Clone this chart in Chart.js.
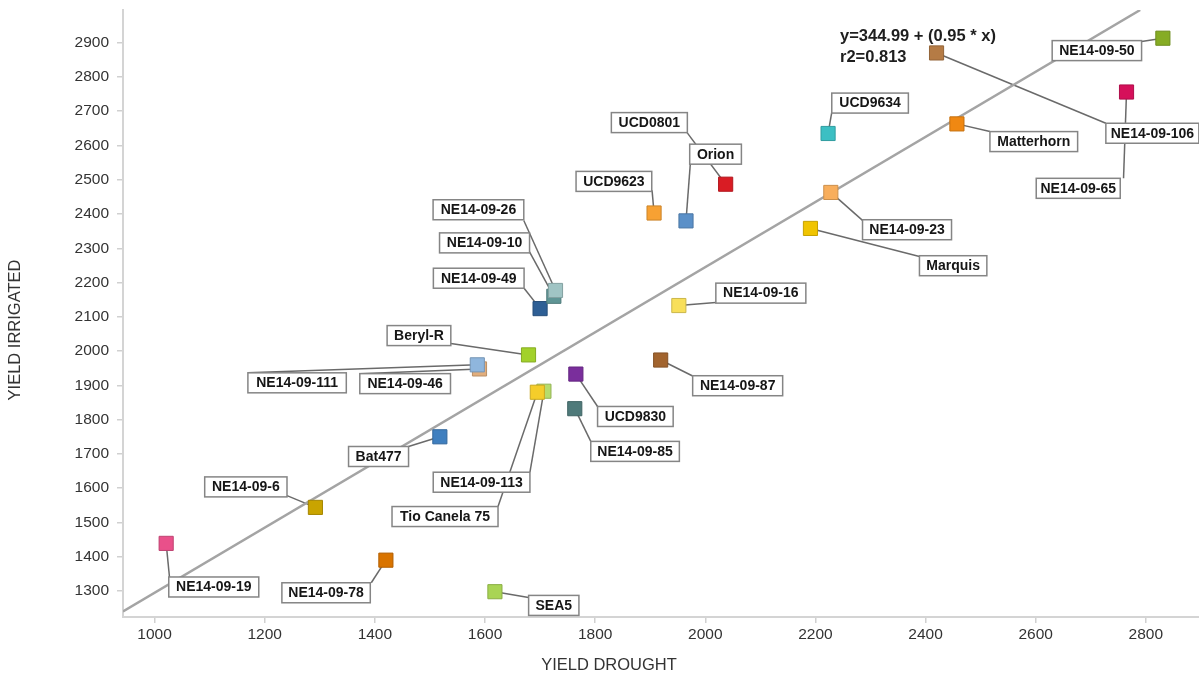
<!DOCTYPE html>
<html>
<head>
<meta charset="utf-8">
<script src="https://cdn.jsdelivr.net/npm/chart.js@4/dist/chart.umd.min.js"></script>
<style>
  html, body { margin: 0; padding: 0; background: #ffffff; }
  canvas { display: block; }
</style>
</head>
<body>
<canvas id="c" width="1199" height="675"></canvas>
<script>
// Bean lines: yield under drought vs. irrigated conditions
const lines = ["NE14-09-19","NE14-09-6","NE14-09-78","SEA5","Bat477","Beryl-R","NE14-09-46","NE14-09-111",
  "NE14-09-113","Tio Canela 75","UCD9830","NE14-09-85","NE14-09-87","NE14-09-16","NE14-09-49","NE14-09-10",
  "NE14-09-26","UCD9623","UCD0801","Orion","UCD9634","NE14-09-23","Marquis","Matterhorn","NE14-09-106",
  "NE14-09-65","NE14-09-50"];
const yieldDrought = [1021,1292,1420,1618,1518,1679,1590,1586,1707,1695,1765,1763,1919,1952,1700,1725,
  1728,1907,2037,1965,2223,2228,2191,2457,2420,2765,2831];
const yieldIrrigated = [1439,1544,1390,1298,1750,1989,1948,1960,1883,1880,1933,1832,1974,2133,2124,2160,
  2177,2403,2487,2380,2635,2463,2358,2663,2870,2756,2913];
const xTicks = [1000,1200,1400,1600,1800,2000,2200,2400,2600,2800];
const yTicks = [1300,1400,1500,1600,1700,1800,1900,2000,2100,2200,2300,2400,2500,2600,2700,2800,2900];
const xRange = [942.6, 2896.6];
const yRange = [1224.2, 2995.3];

// Linear fit reported on the chart
const fitIntercept = 344.99;
const fitSlope = 0.95;
const fitR2 = 0.813;

// Marker fill colours, one per line
const markerColors = ["#e9508a","#c9a400","#d97400","#a9d454","#3f7fbf","#a2d12a","#e2ae7c","#8fb6dd",
  "#b6dc6c","#f5cd2a","#7a2e9c","#4f7a7a","#a2642e","#f8df5a","#2e5f95","#5f9595",
  "#a0c4c4","#f7a133","#d91c24","#5b90c8","#3cbfc3","#f8ae5c","#f0c400","#f08812","#b57b45",
  "#d5105a","#86ac24"];

// Callout placement in pixels relative to the marker:
// [box left, box top, box width, leader start x, leader start y]
const calloutLayout = [
  [2.6, 33.6, 90, 3.3, 33.6],
  [-110.7, -30.5, 82.3, -28.4, -11.8],
  [-104, 22.6, 88.4, -14.6, 22.6],
  [33.7, 3.7, 50.3, 33.7, 5.7],
  [-91.3, 9.7, 60, -31.3, 9.7],
  [-141.4, -29.3, 63.7, -77.7, -11.3],
  [-119.7, 4.7, 90.7, -119.7, 4.7],
  [-229.4, 8, 98.4, -229.4, 8],
  [-110.7, 81, 96.7, -14, 81],
  [-145.3, 114.3, 106, -39.3, 114.3],
  [21.7, 32.4, 75.6, 21.7, 32.4],
  [16, 32.7, 88.6, 16, 32.7],
  [32, 15.7, 90, 32, 16],
  [37, -22.4, 90, 37, -3],
  [-106.7, -40.4, 90.7, -16, -20.4],
  [-114.3, -63.4, 90, -24.3, -44.4],
  [-122.4, -90.7, 90.7, -31.7, -70],
  [-78, -41.6, 75.7, -2, -22.6],
  [-114.3, -71.6, 76, -39.3, -52.6],
  [3.7, -76.7, 51.7, 4.4, -58.3],
  [3.7, -40.4, 76.6, 3.7, -21],
  [31.7, 27.3, 89, 31.7, 28],
  [109, 27.3, 67.4, 109, 28],
  [33, 7.7, 87.7, 33, 7.7],
  [169.3, 70.3, 93, 169.3, 70.3],
  [-90.3, 86.3, 84, -3, 86.3],
  [-110.7, 2.4, 89.4, -21.3, 3.4]
];

const FONT = "'Liberation Sans', Arial, Helvetica, sans-serif";

function darken(hex, f) {
  const n = parseInt(hex.slice(1), 16);
  const r = Math.round(((n >> 16) & 255) * f);
  const g = Math.round(((n >> 8) & 255) * f);
  const b = Math.round((n & 255) * f);
  return "rgb(" + r + "," + g + "," + b + ")";
}

const points = lines.map((name, i) => ({ x: yieldDrought[i], y: yieldIrrigated[i] }));

// Fit line from the left edge up to where it leaves the top of the plot
const fitLine = [
  { x: xRange[0], y: fitIntercept + fitSlope * xRange[0] },
  { x: (yRange[1] - fitIntercept) / fitSlope, y: yRange[1] }
];

const calloutPlugin = {
  id: 'callouts',
  beforeDatasetsDraw(chart) {
    const meta = chart.getDatasetMeta(0);
    const ctx = chart.ctx;
    ctx.save();
    ctx.strokeStyle = '#6a6a6a';
    ctx.lineWidth = 1.5;
    meta.data.forEach((pt, i) => {
      const o = calloutLayout[i];
      ctx.beginPath();
      ctx.moveTo(pt.x + o[3], pt.y + o[4]);
      ctx.lineTo(pt.x, pt.y);
      ctx.stroke();
    });
    ctx.restore();
  },
  afterDatasetsDraw(chart) {
    const meta = chart.getDatasetMeta(0);
    const ctx = chart.ctx;
    ctx.save();
    ctx.font = "bold 14px " + FONT;
    ctx.textAlign = 'center';
    ctx.textBaseline = 'middle';
    meta.data.forEach((pt, i) => {
      const o = calloutLayout[i];
      const bx = pt.x + o[0], by = pt.y + o[1], bw = o[2], bh = 20;
      ctx.fillStyle = '#ffffff';
      ctx.fillRect(bx, by, bw, bh);
      ctx.strokeStyle = '#858585';
      ctx.lineWidth = 1.5;
      ctx.strokeRect(bx, by, bw, bh);
      ctx.fillStyle = '#161616';
      ctx.fillText(lines[i], bx + bw / 2, by + bh / 2 + 0.5);
    });
    ctx.restore();
  },
  afterDraw(chart) {
    const ctx = chart.ctx;
    ctx.save();
    ctx.fillStyle = '#333333';
    ctx.font = "16.5px " + FONT;
    ctx.textAlign = 'center';
    ctx.textBaseline = 'middle';
    ctx.fillText('YIELD DROUGHT', 609, 665);
    ctx.translate(15, 330);
    ctx.rotate(-Math.PI / 2);
    ctx.fillText('YIELD IRRIGATED', 0, 0);
    ctx.restore();

    ctx.save();
    ctx.fillStyle = '#1e1e1e';
    ctx.font = "bold 16.5px " + FONT;
    ctx.textAlign = 'left';
    ctx.textBaseline = 'middle';
    ctx.fillText('y=' + fitIntercept + ' + (' + fitSlope + ' * x)', 840, 36);
    ctx.fillText('r2=' + fitR2, 840, 57);
    ctx.restore();
  }
};

new Chart(document.getElementById('c'), {
  data: {
    datasets: [
      {
        type: 'scatter',
        data: points,
        order: 1,
        pointStyle: 'rect',
        pointRadius: 10,
        pointHoverRadius: 10,
        pointBorderWidth: 1,
        backgroundColor: markerColors,
        borderColor: markerColors.map(c => darken(c, 0.82)),
        pointBackgroundColor: markerColors,
        pointBorderColor: markerColors.map(c => darken(c, 0.82))
      },
      {
        type: 'line',
        data: fitLine,
        order: 2,
        borderColor: '#a4a4a4',
        borderWidth: 2.5,
        pointRadius: 0,
        fill: false,
        tension: 0
      }
    ]
  },
  options: {
    responsive: false,
    animation: false,
    devicePixelRatio: 1,
    layout: { autoPadding: false, padding: { top: 10, right: 0, bottom: 0, left: 0 } },
    plugins: { legend: { display: false }, tooltip: { enabled: false } },
    scales: {
      x: {
        type: 'linear',
        min: xRange[0],
        max: xRange[1],
        afterBuildTicks: s => { s.ticks = xTicks.map(v => ({ value: v })); },
        afterFit: s => { s.height = 58; s.paddingLeft = 0; s.paddingRight = 0; },
        grid: { display: true, drawOnChartArea: false, drawTicks: true, tickLength: 6, color: '#d0d0d0', lineWidth: 1.5 },
        border: { display: true, color: '#d4d4d4', width: 2 },
        ticks: {
          color: '#333333',
          font: { family: FONT, size: 15.5 },
          padding: 2,
          maxRotation: 0,
          autoSkip: false,
          callback: v => String(v)
        }
      },
      y: {
        type: 'linear',
        min: yRange[0],
        max: yRange[1],
        afterBuildTicks: s => { s.ticks = yTicks.map(v => ({ value: v })); },
        afterFit: s => { s.width = 123; s.paddingTop = 0; s.paddingBottom = 0; },
        grid: { display: true, drawOnChartArea: false, drawTicks: true, tickLength: 6, color: '#d0d0d0', lineWidth: 1.5 },
        border: { display: true, color: '#d4d4d4', width: 2 },
        ticks: {
          color: '#333333',
          font: { family: FONT, size: 15.5 },
          padding: 8,
          autoSkip: false,
          callback: v => String(v)
        }
      }
    }
  },
  plugins: [calloutPlugin]
});
</script>
</body>
</html>
